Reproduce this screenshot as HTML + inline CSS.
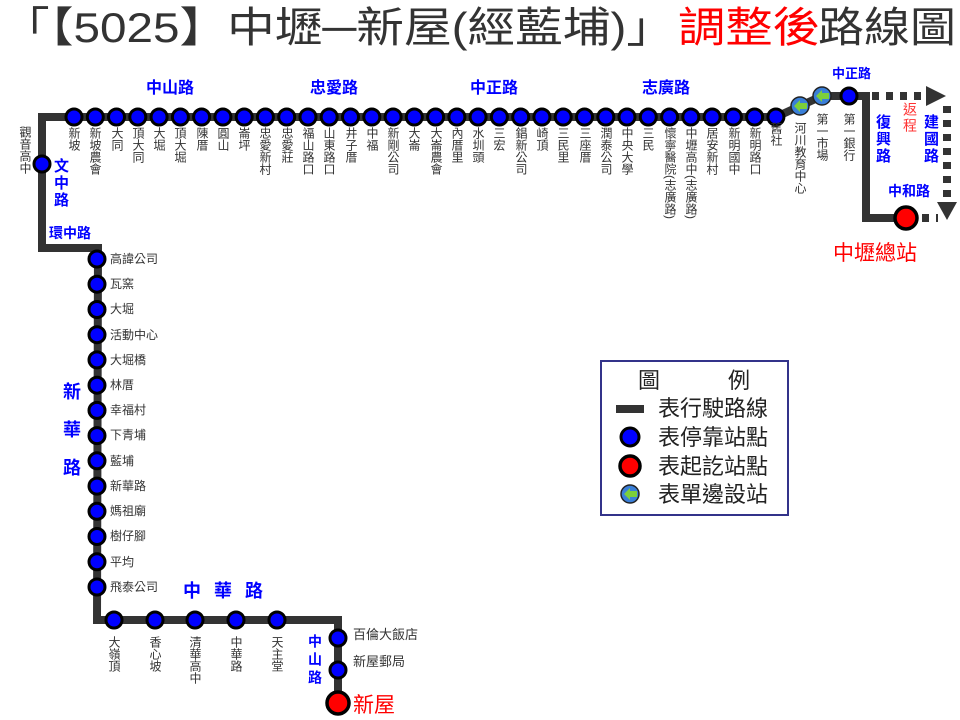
<!DOCTYPE html>
<html><head><meta charset="utf-8"><style>
body{margin:0;background:#fff;width:960px;height:720px;overflow:hidden;position:relative;font-family:"Liberation Sans","Noto Sans CJK TC",sans-serif}
.v{position:absolute;writing-mode:vertical-rl;font-size:12px;line-height:14px;width:14px;color:#333;top:127px}
.h{position:absolute;font-size:12px;line-height:14px;color:#333;left:110px}
.b{position:absolute;color:#0000ff;font-weight:bold;font-size:16px;line-height:18px}
.bv{position:absolute;color:#0000ff;font-weight:bold;writing-mode:vertical-rl;font-size:15px;line-height:17px;letter-spacing:2px}
svg{position:absolute;left:0;top:0}
</style></head><body>
<svg width="960" height="720">
<text x="2" y="42" font-size="42" fill="#333" textLength="672" lengthAdjust="spacingAndGlyphs" font-family="Liberation Sans,Noto Sans CJK TC,sans-serif">「【5025】中壢─新屋(經藍埔)」</text>
<text x="678" y="42" font-size="42" fill="#ff0000" textLength="142" lengthAdjust="spacingAndGlyphs" font-family="Liberation Sans,Noto Sans CJK TC,sans-serif">調整後</text>
<text x="818" y="42" font-size="42" fill="#333" textLength="138" lengthAdjust="spacingAndGlyphs" font-family="Liberation Sans,Noto Sans CJK TC,sans-serif">路線圖</text>
<g fill="none" stroke="#333" stroke-width="8" stroke-linejoin="miter">
<polyline points="74,117 42,117 42,248 98,248 97,620 338,620 338,703"/>
<polyline points="74,117 776,117 800,106 822,96 866,96 866,218 906,218"/>
</g>
<g stroke="#333" stroke-width="8" stroke-dasharray="7,7" fill="none">
<line x1="872" y1="96" x2="930" y2="96"/>
<line x1="947" y1="106" x2="947" y2="206"/>
<line x1="922" y1="218" x2="938" y2="218"/>
</g>
<polygon points="926,86 946,96 926,106" fill="#333"/>
<polygon points="937,202 957,202 947,220" fill="#333"/>
<g fill="#0000ff" stroke="#000" stroke-width="3">
<circle cx="74" cy="117" r="8"/><circle cx="95.3" cy="117" r="8"/><circle cx="116.5" cy="117" r="8"/><circle cx="137.8" cy="117" r="8"/><circle cx="159.1" cy="117" r="8"/><circle cx="180.4" cy="117" r="8"/><circle cx="201.6" cy="117" r="8"/><circle cx="222.9" cy="117" r="8"/><circle cx="244.2" cy="117" r="8"/><circle cx="265.4" cy="117" r="8"/><circle cx="286.7" cy="117" r="8"/><circle cx="308" cy="117" r="8"/><circle cx="329.2" cy="117" r="8"/><circle cx="350.5" cy="117" r="8"/><circle cx="371.8" cy="117" r="8"/><circle cx="393.1" cy="117" r="8"/><circle cx="414.3" cy="117" r="8"/><circle cx="435.6" cy="117" r="8"/><circle cx="456.9" cy="117" r="8"/><circle cx="478.1" cy="117" r="8"/><circle cx="499.4" cy="117" r="8"/><circle cx="520.7" cy="117" r="8"/><circle cx="541.9" cy="117" r="8"/><circle cx="563.2" cy="117" r="8"/><circle cx="584.5" cy="117" r="8"/><circle cx="605.8" cy="117" r="8"/><circle cx="627" cy="117" r="8"/><circle cx="648.3" cy="117" r="8"/><circle cx="669.6" cy="117" r="8"/><circle cx="690.8" cy="117" r="8"/><circle cx="712.1" cy="117" r="8"/><circle cx="733.4" cy="117" r="8"/><circle cx="754.6" cy="117" r="8"/><circle cx="775.9" cy="117" r="8"/>
<circle cx="849" cy="96" r="8"/>
<circle cx="42" cy="164" r="8"/>
<circle cx="97" cy="259" r="8"/><circle cx="97" cy="284.2" r="8"/><circle cx="97" cy="309.5" r="8"/><circle cx="97" cy="334.7" r="8"/><circle cx="97" cy="359.9" r="8"/><circle cx="97" cy="385.2" r="8"/><circle cx="97" cy="410.4" r="8"/><circle cx="97" cy="435.6" r="8"/><circle cx="97" cy="460.8" r="8"/><circle cx="97" cy="486.1" r="8"/><circle cx="97" cy="511.3" r="8"/><circle cx="97" cy="536.5" r="8"/><circle cx="97" cy="561.8" r="8"/><circle cx="97" cy="587" r="8"/>
<circle cx="114" cy="620" r="8"/><circle cx="155" cy="620" r="8"/><circle cx="195" cy="620" r="8"/><circle cx="236" cy="620" r="8"/><circle cx="277" cy="620" r="8"/>
<circle cx="338" cy="638" r="8"/><circle cx="338" cy="670" r="8"/>
<circle cx="630" cy="437" r="9"/>
</g>
<g fill="#ff0000" stroke="#000" stroke-width="3.5">
<circle cx="906" cy="218" r="11"/><circle cx="338" cy="703" r="11"/><circle cx="630" cy="466" r="10"/>
</g>
<g stroke="#222" stroke-width="1.5">
<circle cx="800" cy="106" r="9" fill="#3a7fd8"/><circle cx="822" cy="96" r="9" fill="#3a7fd8"/><circle cx="630" cy="494" r="9" fill="#3a7fd8"/>
</g>
<g fill="#7ccf3a">
<polygon points="794,106 800,100 800,103 807,103 807,109 800,109 800,112"/>
<polygon points="816,96 822,90 822,93 829,93 829,99 822,99 822,102"/>
<polygon points="624,494 630,488 630,491 637,491 637,497 630,497 630,500"/>
</g>
<rect x="601" y="361" width="187" height="154" fill="none" stroke="#33338a" stroke-width="2"/>
<rect x="616" y="405" width="28" height="8" fill="#333"/>
<g font-size="22" fill="#222" font-family="Liberation Sans,Noto Sans CJK TC,sans-serif">
<text x="638" y="388">圖</text><text x="728" y="388">例</text>
<text x="658" y="416">表行駛路線</text>
<text x="658" y="445">表停靠站點</text>
<text x="658" y="474">表起訖站點</text>
<text x="658" y="502">表單邊設站</text>
</g>
<text x="833" y="260" font-size="21" fill="#ff0000" font-family="Liberation Sans,Noto Sans CJK TC,sans-serif">中壢總站</text>
<text x="353" y="712" font-size="21" fill="#ff0000" font-family="Liberation Sans,Noto Sans CJK TC,sans-serif">新屋</text>
<text x="353" y="639" font-size="13" fill="#333" font-family="Liberation Sans,Noto Sans CJK TC,sans-serif">百倫大飯店</text>
<text x="353" y="666" font-size="13" fill="#333" font-family="Liberation Sans,Noto Sans CJK TC,sans-serif">新屋郵局</text>
</svg>
<div class="v" style="left:67px">新坡</div><div class="v" style="left:88px">新坡農會</div><div class="v" style="left:110px">大同</div><div class="v" style="left:131px">頂大同</div><div class="v" style="left:152px">大堀</div><div class="v" style="left:173px">頂大堀</div><div class="v" style="left:195px">陳厝</div><div class="v" style="left:216px">圓山</div><div class="v" style="left:237px">崙坪</div><div class="v" style="left:258px">忠愛新村</div><div class="v" style="left:280px">忠愛莊</div><div class="v" style="left:301px">福山路口</div><div class="v" style="left:322px">山東路口</div><div class="v" style="left:344px">井子厝</div><div class="v" style="left:365px">中福</div><div class="v" style="left:386px">新剛公司</div><div class="v" style="left:407px">大崙</div><div class="v" style="left:429px">大崙農會</div><div class="v" style="left:450px">內厝里</div><div class="v" style="left:471px">水圳頭</div><div class="v" style="left:492px">三宏</div><div class="v" style="left:514px">錩新公司</div><div class="v" style="left:535px">崎頂</div><div class="v" style="left:556px">三民里</div><div class="v" style="left:578px">三座厝</div><div class="v" style="left:599px">潤泰公司</div><div class="v" style="left:620px">中央大學</div><div class="v" style="left:641px">三民</div><div class="v" style="left:663px">懷寧醫院(志廣路)</div><div class="v" style="left:684px">中壢高中(志廣路)</div><div class="v" style="left:705px">居安新村</div><div class="v" style="left:727px">新明國中</div><div class="v" style="left:748px">新明路口</div><div class="v" style="left:769px;top:122px">舊社</div>
<div class="v" style="left:793px;top:122px">河川教育中心</div><div class="v" style="left:815px;top:113px">第一市場</div><div class="v" style="left:842px;top:113px">第一銀行</div>
<div class="v" style="left:18px;top:126px">觀音高中</div>
<div class="h" style="top:252px">高諱公司</div><div class="h" style="top:277px">瓦窯</div><div class="h" style="top:302px">大堀</div><div class="h" style="top:328px">活動中心</div><div class="h" style="top:353px">大堀橋</div><div class="h" style="top:378px">林厝</div><div class="h" style="top:403px">幸福村</div><div class="h" style="top:428px">下青埔</div><div class="h" style="top:454px">藍埔</div><div class="h" style="top:479px">新華路</div><div class="h" style="top:504px">媽祖廟</div><div class="h" style="top:529px">樹仔腳</div><div class="h" style="top:555px">平均</div><div class="h" style="top:580px">飛泰公司</div>
<div class="v" style="left:107px;top:636px">大嶺頂</div><div class="v" style="left:148px;top:636px">香心坡</div><div class="v" style="left:188px;top:636px">清華高中</div><div class="v" style="left:229px;top:636px">中華路</div><div class="v" style="left:270px;top:636px">天主堂</div>
<div class="b" style="left:146px;top:80px">中山路</div>
<div class="b" style="left:310px;top:80px">忠愛路</div>
<div class="b" style="left:470px;top:80px">中正路</div>
<div class="b" style="left:642px;top:80px">志廣路</div>
<div class="b" style="left:832px;top:65px;font-size:13px">中正路</div>
<div class="b" style="left:888px;top:182px;font-size:14px">中和路</div>
<div class="bv" style="left:874px;top:114px">復興路</div>
<div class="bv" style="left:922px;top:114px">建國路</div>
<div class="bv" style="left:901px;top:102px;font-weight:normal;color:#ff3333;font-size:14px">返程</div>
<div class="bv" style="left:52px;top:158px">文中路</div>
<div class="b" style="left:49px;top:224px;font-size:14px">環中路</div>
<div class="bv" style="left:61px;top:382px;font-size:18px;line-height:20px;letter-spacing:20px">新華路</div>
<div class="b" style="left:183px;top:582px;font-size:18px;letter-spacing:13px">中華路</div>
<div class="bv" style="left:306px;top:634px;font-size:14px;letter-spacing:4px">中山路</div>
</body></html>
